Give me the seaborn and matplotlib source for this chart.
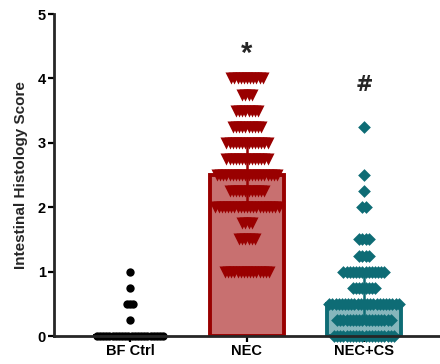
import numpy as np
import pandas as pd
import matplotlib
matplotlib.use("Agg")
import matplotlib.pyplot as plt
import seaborn as sns

# groups and individual scores (score level -> number of animals at that level)
groups = ['BF Ctrl', 'NEC', 'NEC+CS']

bf_levels = [0.0, 0.25, 0.5, 0.75, 1.0]
bf_counts = [22, 1, 3, 1, 1]

nec_levels = [1.0, 1.5, 1.75, 2.0, 2.25, 2.5, 2.75, 3.0, 3.25, 3.5, 3.75, 4.0]
nec_counts = [15, 6, 4, 21, 12, 20, 14, 14, 10, 8, 4, 11]

cs_levels = [0.0, 0.25, 0.5, 0.75, 1.0, 1.25, 1.5, 2.0, 2.25, 2.5, 3.25]
cs_counts = [20, 18, 23, 8, 14, 4, 4, 2, 1, 1, 1]

signif = ['', '*', '#']
signif_y = [0, 4.38, 3.9]

fill_colors = ['#999999', '#c87070', '#86b6bc']
dark_colors = ['#000000', '#990000', '#0e6c75']
markers = ['o', 'v', 'D']
marker_sizes = [36, 75, 42]

rows = []
for g, lv, ct in zip(groups, [bf_levels, nec_levels, cs_levels],
                     [bf_counts, nec_counts, cs_counts]):
    for v, n in zip(lv, ct):
        rows += [(g, v)] * n
df = pd.DataFrame(rows, columns=['group', 'score'])

sns.set_theme(style="ticks")
plt.rcParams['font.family'] = ['Liberation Sans', 'DejaVu Sans']
plt.rcParams['font.weight'] = 'bold'

fig = plt.figure(figsize=(4.4, 3.64), dpi=100)
ax = fig.add_axes([0.1227, 0.0769, 0.8773, 0.8846])

# median with interquartile range
iqr = lambda x: (np.percentile(x, 25), np.percentile(x, 75))
sns.barplot(data=df, x='group', y='score', hue='group', order=groups,
            palette=fill_colors, saturation=1, estimator='median', errorbar=iqr,
            width=0.64, linewidth=2.8, err_kws={'linewidth': 1.8},
            legend=False, ax=ax, zorder=1)

for patch, c in zip(ax.patches, dark_colors):
    patch.set_edgecolor(c)
for line, c in zip(ax.lines, dark_colors):
    line.set_color(c)
    line.set_zorder(2)

# scatter the individual points, each level spread sideways around the group
step = 0.027
for i, g in enumerate(groups):
    sub = df[df['group'] == g]
    xs, ys = [], []
    for v, n in sub['score'].value_counts().sort_index().items():
        off = (np.arange(n) - (n - 1) / 2) * step
        xs += list(i + off)
        ys += [v] * n
    ax.scatter(xs, ys, s=marker_sizes[i], marker=markers[i],
               color=dark_colors[i], linewidths=0, zorder=3, clip_on=False)

for i, t in enumerate(signif):
    if t:
        ax.text(i, signif_y[i], t, ha='center', va='center',
                fontsize=21 if t == '*' else 15, fontweight='bold',
                family=['DejaVu Sans'] if t == '#' else None)

ax.set_xlim(-0.65, 2.65)
ax.set_ylim(0, 5)
ax.set_yticks([0, 1, 2, 3, 4, 5])
ax.set_xlabel('')
ax.set_ylabel('Intestinal Histology Score', fontsize=11, fontweight='bold',
              labelpad=7)
ax.tick_params(axis='both', width=1.6, length=4, labelsize=10.5, pad=2,
               color='black', labelcolor='black')
for lab in ax.get_xticklabels() + ax.get_yticklabels():
    lab.set_fontweight('bold')
sns.despine(ax=ax)
ax.spines['left'].set_linewidth(2)
ax.spines['bottom'].set_linewidth(2)
ax.spines['left'].set_zorder(5)
ax.spines['bottom'].set_zorder(5)

fig.savefig('out.png', dpi=100)
